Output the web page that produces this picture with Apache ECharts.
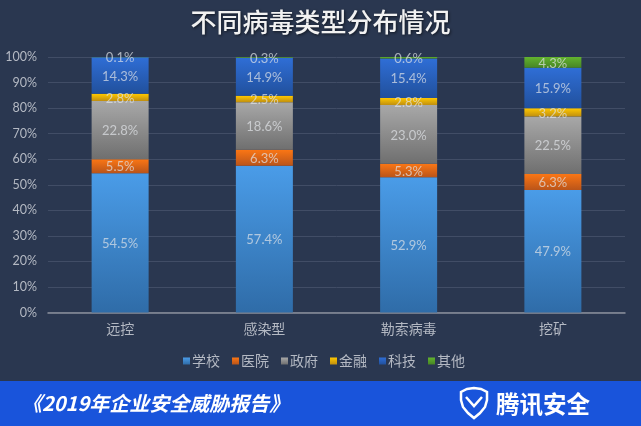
<!DOCTYPE html>
<html>
<head>
<meta charset="utf-8">
<style>
html,body{margin:0;padding:0;background:#2a3750;}
#main{width:641px;height:426px;}
</style>
<script src="https://cdn.jsdelivr.net/npm/echarts@6/dist/echarts.min.js"></script>
</head>
<body>
<div id="main"></div>
<script>
var categories = ['远控', '感染型', '勒索病毒', '挖矿'];
var school = [54.5, 57.4, 52.9, 47.9];
var hospital = [5.5, 6.3, 5.3, 6.3];
var government = [22.8, 18.6, 23.0, 22.5];
var finance = [2.8, 2.5, 2.8, 3.2];
var tech = [14.3, 14.9, 15.4, 15.9];
var other = [0.1, 0.3, 0.6, 4.3];

var font = 'Lato, "Noto Sans CJK SC", sans-serif';
var cjk = '"Noto Sans CJK SC", sans-serif';

function makeSeries(name, data, top, bottom) {
    return {
        name: name,
        type: 'bar',
        stack: 'total',
        barWidth: 57,
        data: data,
        itemStyle: {
            color: new echarts.graphic.LinearGradient(0, 0, 0, 1, [
                {offset: 0, color: top},
                {offset: 1, color: bottom}
            ])
        },
        label: {
            show: true,
            position: 'inside',
            color: 'rgba(225,228,232,0.7)',
            fontFamily: font,
            fontSize: 13,
            offset: [0, 1],
            formatter: function (p) { return p.value.toFixed(1) + '%'; }
        }
    };
}

var myChart = echarts.init(document.getElementById('main'), null, {renderer: 'canvas'});
myChart.setOption({
    animation: false,
    backgroundColor: '#2a3750',
    title: {
        text: '不同病毒类型分布情况',
        left: 'center',
        top: 4,
        textStyle: {
            color: '#f2f2f2',
            fontFamily: cjk,
            fontSize: 26,
            fontWeight: 500,
            textShadowColor: 'rgba(0,0,0,0.6)',
            textShadowBlur: 3,
            textShadowOffsetX: 1,
            textShadowOffsetY: 1
        }
    },
    grid: {left: 48, right: 16, top: 57, bottom: 113.5},
    legend: {
        top: 349,
        left: 178,
        itemWidth: 7,
        itemHeight: 7,
        itemGap: 12,
        icon: 'rect',
        textStyle: {color: '#b4b9c3', fontFamily: cjk, fontSize: 14, padding: [0, 0, 0, -3]}
    },
    xAxis: {
        type: 'category',
        data: categories,
        axisTick: {show: false},
        axisLine: {lineStyle: {color: '#8a909c', width: 1.5}},
        axisLabel: {color: '#b4b9c3', fontFamily: cjk, fontSize: 14, margin: 9}
    },
    yAxis: {
        type: 'value',
        min: 0,
        max: 100,
        interval: 10,
        axisLine: {show: false},
        axisTick: {show: false},
        axisLabel: {color: '#b4b9c3', fontFamily: font, fontSize: 12.5, margin: 11, formatter: '{value}%'},
        splitLine: {lineStyle: {color: '#414d66', width: 1}}
    },
    series: [
        makeSeries('学校', school, '#4a9ce8', '#2f6ca8'),
        makeSeries('医院', hospital, '#fb7614', '#b9541a'),
        makeSeries('政府', government, '#a8a8a8', '#6f6f6f'),
        makeSeries('金融', finance, '#ffc800', '#c08f10'),
        makeSeries('科技', tech, '#2f6ed6', '#21509c'),
        makeSeries('其他', other, '#62b32e', '#478524')
    ],
    graphic: [
        {
            type: 'rect',
            shape: {x: 0, y: 381, width: 641, height: 45},
            style: {fill: '#1954db'},
            z: 10
        },
        {
            type: 'text',
            x: 22,
            y: 403,
            z: 11,
            style: {
                text: '《2019年企业安全威胁报告》',
                fill: '#ffffff',
                font: 'italic bold 20px ' + cjk,
                verticalAlign: 'middle'
            }
        },
        {
            type: 'polygon',
            z: 11,
            shape: {
                points: [[474, 388], [467, 389], [461, 392], [461, 400], [463, 407], [468, 413], [474, 418], [480, 413], [485, 407], [487, 400], [487, 392], [481, 389]]
            },
            style: {fill: 'none', stroke: '#ffffff', lineWidth: 2.5}
        },
        {
            type: 'polyline',
            z: 11,
            shape: {points: [[466, 397], [474, 406], [482, 397]]},
            style: {fill: 'none', stroke: '#ffffff', lineWidth: 2.5}
        },
        {
            type: 'text',
            x: 496,
            y: 404,
            z: 11,
            style: {
                text: '腾讯安全',
                fill: '#ffffff',
                font: 'bold 23.5px ' + cjk,
                verticalAlign: 'middle'
            }
        }
    ]
});
</script>
</body>
</html>
